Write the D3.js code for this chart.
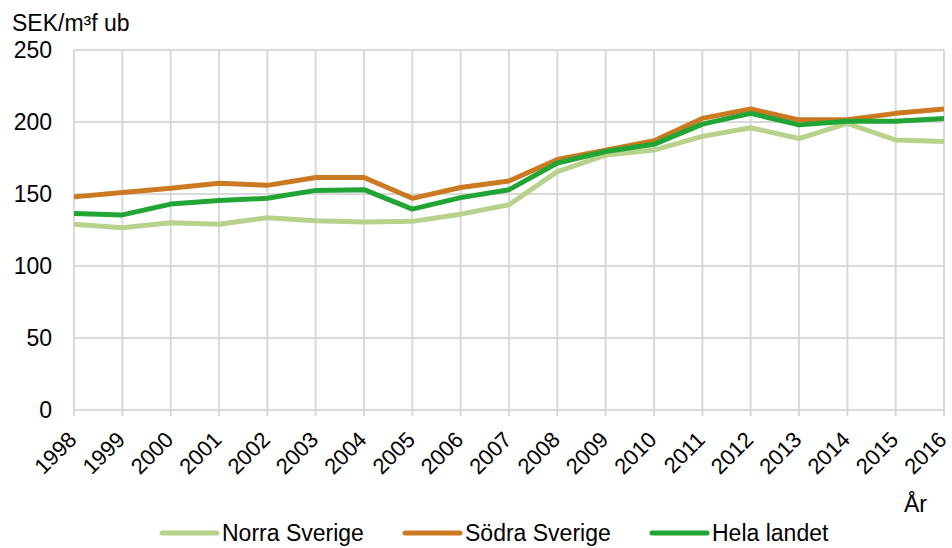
<!DOCTYPE html>
<html>
<head>
<meta charset="utf-8">
<script src="https://cdn.jsdelivr.net/npm/d3@7"></script>
<style>
  body { margin: 0; background: #fff; }
  svg text { font-family: "Liberation Sans", Arial, sans-serif; fill: #000; }
</style>
</head>
<body>
<svg id="chart" width="952" height="548"></svg>
<script>
(function () {
    'use strict';

    var years = [1998, 1999, 2000, 2001, 2002, 2003, 2004, 2005, 2006, 2007,
                 2008, 2009, 2010, 2011, 2012, 2013, 2014, 2015, 2016];
    var norra = [129, 126.5, 130, 129, 133.5, 131.5, 130.5, 131, 136, 142.5,
                 165.5, 177, 180.5, 190, 196, 188.5, 199, 187.5, 186.5];
    var sodra = [148, 151, 154, 157.5, 156, 161.5, 161.5, 147, 154.5, 159,
                 174, 180.5, 187, 202.5, 209, 201.5, 201.5, 206, 209];
    var hela = [136.5, 135.5, 143, 145.5, 147, 152.5, 153, 139.5, 147.5, 153,
                171.5, 179.5, 184.5, 198.5, 206, 198, 200.5, 200.5, 202.5];
    var yTicks = [0, 50, 100, 150, 200, 250];
    var seriesNames = ['Norra Sverige', 'Södra Sverige', 'Hela landet'];
    var colors = ['#b7d28a', '#cc7a22', '#21a534'];

    var svg = d3.select('#chart');
    var margin = { left: 74, right: 8, top: 50, bottom: 138 };
    var w = 952 - margin.left - margin.right;
    var h = 548 - margin.top - margin.bottom;

    var x = d3.scalePoint().domain(years).range([0, w]);
    var y = d3.scaleLinear().domain([0, 250]).range([h, 0]);

    var g = svg.append('g')
        .attr('transform', 'translate(' + margin.left + ',' + margin.top + ')');

    // grid
    g.append('g').selectAll('line')
        .data(yTicks)
        .enter().append('line')
        .attr('x1', 0).attr('x2', w)
        .attr('y1', function (d) { return y(d); })
        .attr('y2', function (d) { return y(d); })
        .attr('stroke', '#d9d9d9').attr('stroke-width', 2);

    g.append('g').selectAll('line')
        .data(years)
        .enter().append('line')
        .attr('x1', function (d) { return x(d); })
        .attr('x2', function (d) { return x(d); })
        .attr('y1', 0).attr('y2', h + 6)
        .attr('stroke', '#d9d9d9').attr('stroke-width', 2);

    // y labels
    g.append('g').selectAll('text')
        .data(yTicks)
        .enter().append('text')
        .attr('x', -22)
        .attr('y', function (d) { return y(d); })
        .attr('dy', '0.35em')
        .attr('text-anchor', 'end')
        .style('font-size', '23px')
        .text(function (d) { return d; });

    // x labels
    g.append('g').selectAll('text')
        .data(years)
        .enter().append('text')
        .attr('transform', function (d) {
            return 'translate(' + (x(d) + 4) + ',' + (h + 31) + ') rotate(-45)';
        })
        .attr('text-anchor', 'end')
        .style('font-size', '22px')
        .text(function (d) { return d; });

    // lines
    var line = d3.line()
        .x(function (d, i) { return x(years[i]); })
        .y(function (d) { return y(d); });

    [norra, sodra, hela].forEach(function (s, i) {
        g.append('path')
            .datum(s)
            .attr('d', line)
            .attr('fill', 'none')
            .attr('stroke', colors[i])
            .attr('stroke-width', 5)
            .attr('stroke-linejoin', 'round');
    });

    // axis titles
    svg.append('text')
        .attr('x', 12).attr('y', 31)
        .style('font-size', '23px')
        .text('SEK/m³f ub');

    svg.append('text')
        .attr('x', 927).attr('y', 512)
        .attr('text-anchor', 'end')
        .style('font-size', '23px')
        .text('År');

    // legend
    var legendX = [162, 405, 652];
    var legend = svg.append('g');
    seriesNames.forEach(function (name, i) {
        legend.append('line')
            .attr('x1', legendX[i]).attr('x2', legendX[i] + 55)
            .attr('y1', 533).attr('y2', 533)
            .attr('stroke', colors[i])
            .attr('stroke-width', 5)
            .attr('stroke-linecap', 'round');
        legend.append('text')
            .attr('x', legendX[i] + 60).attr('y', 533)
            .attr('dy', '0.35em')
            .style('font-size', '23px')
            .text(name);
    });
}());
</script>
</body>
</html>
